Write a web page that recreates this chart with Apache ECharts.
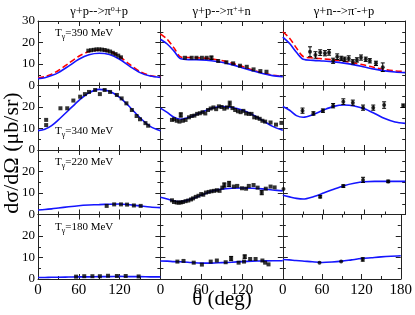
<!DOCTYPE html>
<html><head><meta charset="utf-8">
<script src="https://cdn.jsdelivr.net/npm/echarts@6/dist/echarts.min.js"></script>
<style>html,body{margin:0;padding:0;background:#fff}#c{width:415px;height:315px}</style>
</head><body><div id="c"></div>
<script>
// ---------- data ----------
const thetaGrid = [0,10,20,30,45,60,75,90,105,120,135,150,165,180];
const energies = ['390','340','220','180'];
const xTickLabels = [0,60,120,180];
const yTickLabels = [0,10,20,30];

// model curves (blue solid) and (red dashed, 390 MeV only), sampled at thetaGrid
const blue390pi0  = [3.2,3.6,4.6,6.0,9.0,12.2,14.3,15.0,14.4,12.2,8.9,6.0,4.4,3.8];
const red390pi0   = [3.6,4.1,5.3,7.0,10.3,13.6,15.8,16.5,15.9,13.5,9.8,6.5,4.6,4.0];
const blue390pip  = [21.5,19.3,16.0,12.4,12.0,11.9,11.5,10.8,9.7,8.3,6.9,5.6,4.6,4.1];
const red390pip   = [24.0,21.5,17.5,13.3,13.0,12.8,12.4,11.6,10.4,8.9,7.3,5.9,4.8,4.2];
const blue390pim  = [22.5,19.5,15.5,12.2,11.7,11.4,11.0,10.4,9.6,8.6,7.6,6.8,6.3,6.0];
const red390pim   = [25.0,22.0,17.5,13.5,12.8,12.4,11.9,11.3,10.5,9.5,8.4,7.4,6.8,6.5];
const blue340pi0  = [9.0,9.6,11.3,14.0,18.5,23.0,26.6,28.2,27.3,24.5,20.0,15.0,11.0,9.0];
const blue340pip  = [19.5,17.5,15.2,14.3,15.5,17.5,19.3,20.2,19.8,18.6,16.5,13.8,11.0,9.2];
const blue340pim  = [20.2,18.5,16.0,15.2,16.5,18.6,20.3,20.9,20.5,19.2,17.0,14.6,13.0,12.4];
const blue220pi0  = [2.1,2.3,2.6,3.0,3.6,4.1,4.4,4.6,4.8,4.9,4.5,4.0,3.5,3.2];
const blue220pip  = [8.0,7.2,6.3,6.0,7.2,9.0,10.8,11.8,12.2,12.3,12.2,11.9,11.4,11.0];
const blue220pim  = [9.0,8.2,7.5,7.2,8.3,10.0,11.8,13.4,14.5,15.2,15.4,15.4,15.4,15.4];
const blue180pi0  = [0.7,0.7,0.8,0.8,0.9,1.0,1.0,1.1,1.1,1.2,1.1,1.1,1.0,1.0];
const blue180pip  = [8.4,8.3,8.1,8.0,7.7,7.4,7.4,7.6,7.8,8.1,8.3,8.4,8.5,8.5];
const blue180pim  = [9.1,8.9,8.6,8.4,8.0,7.7,7.9,8.3,8.9,9.5,9.9,10.3,10.6,10.8];

// experimental points [theta, value, error]
const data390pi0 = [[74,16.2,0],[78,16.4,0],[82,16.6,0],[86,16.8,0],[90,16.8,0],[94,16.7,0],[98,16.5,0],[102,16.2,0],[106,15.8,0],[110,15.2,0],[114,14.6,0],[118,13.9,0],[122,13.1,0]];
const data390pip = [[36,12.9,0],[46,12.9,0],[53,12.9,0],[61,12.9,0],[68,12.9,0],[75,12.9,0.8],[85,11.4,0],[97,10.8,0],[107,10.3,0],[117,9.2,0],[127,8.7,0],[137,7.5,0],[147,6.7,0],[156,6.4,0]];
const data390pim = [[40,15.7,2.3],[48,14.2,1.5],[55,15.3,1.3],[62,15.0,1.2],[68,15.4,1.3],[74,11.5,1.2],[80,13.4,1.3],[86,12.6,1.0],[91,12.2,1.0],[97,12.6,1.2],[103,11.0,1.0],[109,11.9,1.0],[115,13.0,1.2],[122,12.2,1.0],[128,11.5,1.0],[137,10.3,1.0],[147,8.5,2.0]];
const data340pi0 = [[12,14.0,0],[12,11.6,0],[33,19.4,0],[43,19.4,0],[52,23.0,0],[62,24.8,0],[69,26.0,0],[75,27.0,0],[84,27.9,0],[91,26.0,0],[98,27.9,0],[106,27.0,0],[116,25.6,0],[123,24.0,0],[130,21.7,0],[138,18.6,0],[145,15.8,0],[150,14.3,0],[158,12.5,0],[162,11.3,0]];
const data340pip = [[17,14.0,0],[20,14.3,0],[24,13.6,0],[28,13.2,0],[30,16.3,1.0],[33,13.6,0],[37,14.0,0],[42,15.2,0],[46,15.8,0],[50,16.0,0],[54,16.8,0],[58,17.1,0],[62,17.6,0],[66,17.0,0],[70,18.6,0],[74,19.3,0],[78,19.8,0],[82,19.0,0],[86,20.3,0],[90,20.0,0],[94,19.2,0],[98,19.8,0],[102,21.5,1.2],[106,19.5,0],[110,18.6,0],[114,18.0,0],[118,17.6,0],[122,18.2,0],[126,17.0,0],[130,16.8,0],[134,16.8,0],[138,15.2,0],[142,15.0,0],[146,14.5,0],[150,13.6,0],[154,13.2,0],[162,12.8,0],[170,11.8,0],[178,12.6,0]];
const data340pim = [[29,18.3,1.2],[45,17.0,0.8],[59,18.3,0.8],[74,20.6,1.0],[89,22.5,1.3],[103,22.0,1.2],[118,19.7,1.2],[133,19.7,1.2],[149,20.9,1.5],[177,20.6,0.8]];
const data220pi0 = [[101,4.0,0],[112,4.7,0],[122,4.7,0],[131,4.6,0],[141,4.2,0],[151,4.0,0]];
const data220pip = [[17,6.6,0],[20,5.8,0],[24,5.6,0],[27,5.5,0],[30,5.6,0],[33,5.8,0],[37,6.2,0],[41,6.5,0],[45,7.0,0],[48,7.5,0],[52,8.2,0],[56,8.7,0],[60,9.5,0],[63,9.2,0],[67,10.2,0],[71,10.5,0],[75,10.8,0],[79,11.0,0],[83,11.3,0],[87,11.0,0],[91,12.5,0],[94,13.7,1.0],[101,14.2,1.2],[108,13.0,0],[113,13.3,0],[120,12.2,0],[126,12.0,0],[130,13.3,0],[137,13.7,0],[143,12.5,0],[149,10.2,1.0],[155,12.0,0],[162,13.0,0],[168,12.6,0]];
const data220pim = [[1,11.9,0],[55,8.3,0.6],[89,13.2,0.6],[118,16.1,1.2],[155,15.4,0.6]];
const data180pi0 = [[56,1.1,0],[68,1.3,0],[80,1.3,0],[91,1.3,0],[103,1.5,0],[116,1.4,0],[129,1.4,0],[148,1.2,0]];
const data180pip = [[25,8.1,0],[34,8.4,0],[49,7.6,0],[61,6.7,0],[74,8.1,0],[83,8.6,0],[96,7.8,0],[104,9.5,1.0],[115,7.6,0],[123,8.1,0],[124,10.4,0.8],[132,9.3,0],[140,9.3,0],[150,8.6,0],[154,7.6,0],[159,6.8,0]];
const data180pim = [[56,7.6,0],[89,8.1,0],[122,9.1,0.8]];

const reactionTitles = [
  '{m|γ+p-->π}{s|o}{m|+p}',
  '{m|γ+p-->π}{s|+}{m|+n}',
  '{m|γ+n-->π}{s|-}{m|-+p}'
];

const panelBlue = [
  [blue390pi0, blue390pip, blue390pim],
  [blue340pi0, blue340pip, blue340pim],
  [blue220pi0, blue220pip, blue220pim],
  [blue180pi0, blue180pip, blue180pim]
];
const panelRed = [[red390pi0, red390pip, red390pim], null, null, null];
const panelData = [
  [data390pi0, data390pip, data390pim],
  [data340pi0, data340pip, data340pim],
  [data220pi0, data220pip, data220pim],
  [data180pi0, data180pip, data180pim]
];

// ---------- layout ----------
const FONT = "'Liberation Serif','Times New Roman',serif";
const LEFT = 38, TOP = 21, CW = 122.4, RH = 64.5;
const AX = '#222';

const grids = [], xAxes = [], yAxes = [], series = [];
let idx = 0;
for (let r = 0; r < 4; r++) {
  for (let c = 0; c < 3; c++) {
    grids.push({left: LEFT + c*CW, top: TOP + r*RH, width: CW, height: RH, containLabel: false});
    const common = {
      gridIndex: idx, type: 'value',
      axisLine: {show: true, onZero: false, lineStyle: {color: AX, width: 1}},
      axisTick: {show: true, inside: true, length: 5, lineStyle: {color: AX}},
      minorTick: {show: true, splitNumber: 2, length: 3, lineStyle: {color: AX}},
      splitLine: {show: false}
    };
    const rr = r, cc = c;
    xAxes.push(Object.assign({}, common, {
      min: 0, max: 180, interval: 60, position: 'bottom',
      axisLabel: {show: r === 3, fontFamily: FONT, fontSize: 15, color: '#000', margin: 4,
        formatter: v => (cc < 2 && v === 180) ? '' : String(v)}
    }));
    xAxes.push(Object.assign({}, common, {
      min: 0, max: 180, interval: 60, position: 'top', axisLabel: {show: false}
    }));
    yAxes.push(Object.assign({}, common, {
      min: 0, max: 30, interval: 10, position: 'left',
      axisLabel: {show: c === 0, fontFamily: FONT, fontSize: 13, color: '#000', margin: 3,
        formatter: v => (rr > 0 && v === 30) ? '' : String(v)}
    }));
    yAxes.push(Object.assign({}, common, {
      min: 0, max: 30, interval: 10, position: 'right', axisLabel: {show: false}
    }));
    const xi = 2*idx, yi = 2*idx;
    series.push({
      type: 'line', xAxisIndex: xi, yAxisIndex: yi, smooth: 0.3, symbol: 'none',
      lineStyle: {color: '#1515ff', width: 1.6}, z: 3,
      data: thetaGrid.map((t, k) => [t, panelBlue[r][c][k]])
    });
    if (panelRed[r]) {
      series.push({
        type: 'line', xAxisIndex: xi, yAxisIndex: yi, smooth: 0.3, symbol: 'none',
        lineStyle: {color: '#ff0000', width: 1.6, type: [6, 3]}, z: 2,
        data: thetaGrid.map((t, k) => [t, panelRed[r][c][k]])
      });
    }
    const pts = panelData[r][c];
    series.push({
      type: 'custom', xAxisIndex: xi, yAxisIndex: yi, z: 4,
      data: pts.filter(p => p[2] > 0),
      renderItem: (params, api) => {
        const t = api.value(0), v = api.value(1), e = api.value(2);
        const a = api.coord([t, v - e]), b = api.coord([t, v + e]);
        const st = {stroke: '#000', lineWidth: 1};
        return {type: 'group', children: [
          {type: 'line', shape: {x1: a[0], y1: a[1], x2: b[0], y2: b[1]}, style: st},
          {type: 'line', shape: {x1: a[0]-2, y1: a[1], x2: a[0]+2, y2: a[1]}, style: st},
          {type: 'line', shape: {x1: b[0]-2, y1: b[1], x2: b[0]+2, y2: b[1]}, style: st}
        ]};
      }
    });
    series.push({
      type: 'scatter', xAxisIndex: xi, yAxisIndex: yi, z: 5,
      symbol: c === 2 ? 'circle' : 'rect', symbolSize: 4,
      itemStyle: {color: '#000'},
      data: pts.map(p => [p[0], p[1]])
    });
    idx++;
  }
}

// ---------- text ----------
const labelRich = {
  m: {fontFamily: FONT, fontSize: 11, color: '#000', lineHeight: 14},
  g: {fontFamily: FONT, fontSize: 8, color: '#000', lineHeight: 14, verticalAlign: 'bottom', padding: [4,0,0,0]}
};
const labelPos = [35, 133, 164, 229];
const graphics = [];
energies.forEach((e, r) => {
  graphics.push({type: 'text', left: 55, top: labelPos[r] - 7,
    style: {text: '{m|T}{g|γ}{m|=' + e + ' MeV}', rich: labelRich}});
});
const titleRich = {
  m: {fontFamily: FONT, fontSize: 12.5, color: '#000', lineHeight: 15},
  s: {fontFamily: FONT, fontSize: 8, color: '#000', lineHeight: 15, verticalAlign: 'top'}
};
reactionTitles.forEach((t, c) => {
  graphics.push({type: 'text', x: LEFT + c*CW + CW/2, y: 12,
    style: {text: t, rich: titleRich, align: 'center', verticalAlign: 'middle'}});
});
graphics.push({type: 'text', x: 12, y: 153, rotation: Math.PI/2,
  style: {text: 'dσ/dΩ (μb/sr)', fontFamily: FONT, fontSize: 22, fill: '#000', align: 'center', verticalAlign: 'middle'}});
graphics.push({type: 'text', x: 222, y: 299,
  style: {text: 'θ (deg)', fontFamily: FONT, fontSize: 21, fill: '#000', align: 'center', verticalAlign: 'middle'}});

const chart = echarts.init(document.getElementById('c'), null, {renderer: 'canvas'});
chart.setOption({
  animation: false, backgroundColor: '#fff',
  grid: grids, xAxis: xAxes, yAxis: yAxes, series: series, graphic: graphics
});
</script></body></html>
